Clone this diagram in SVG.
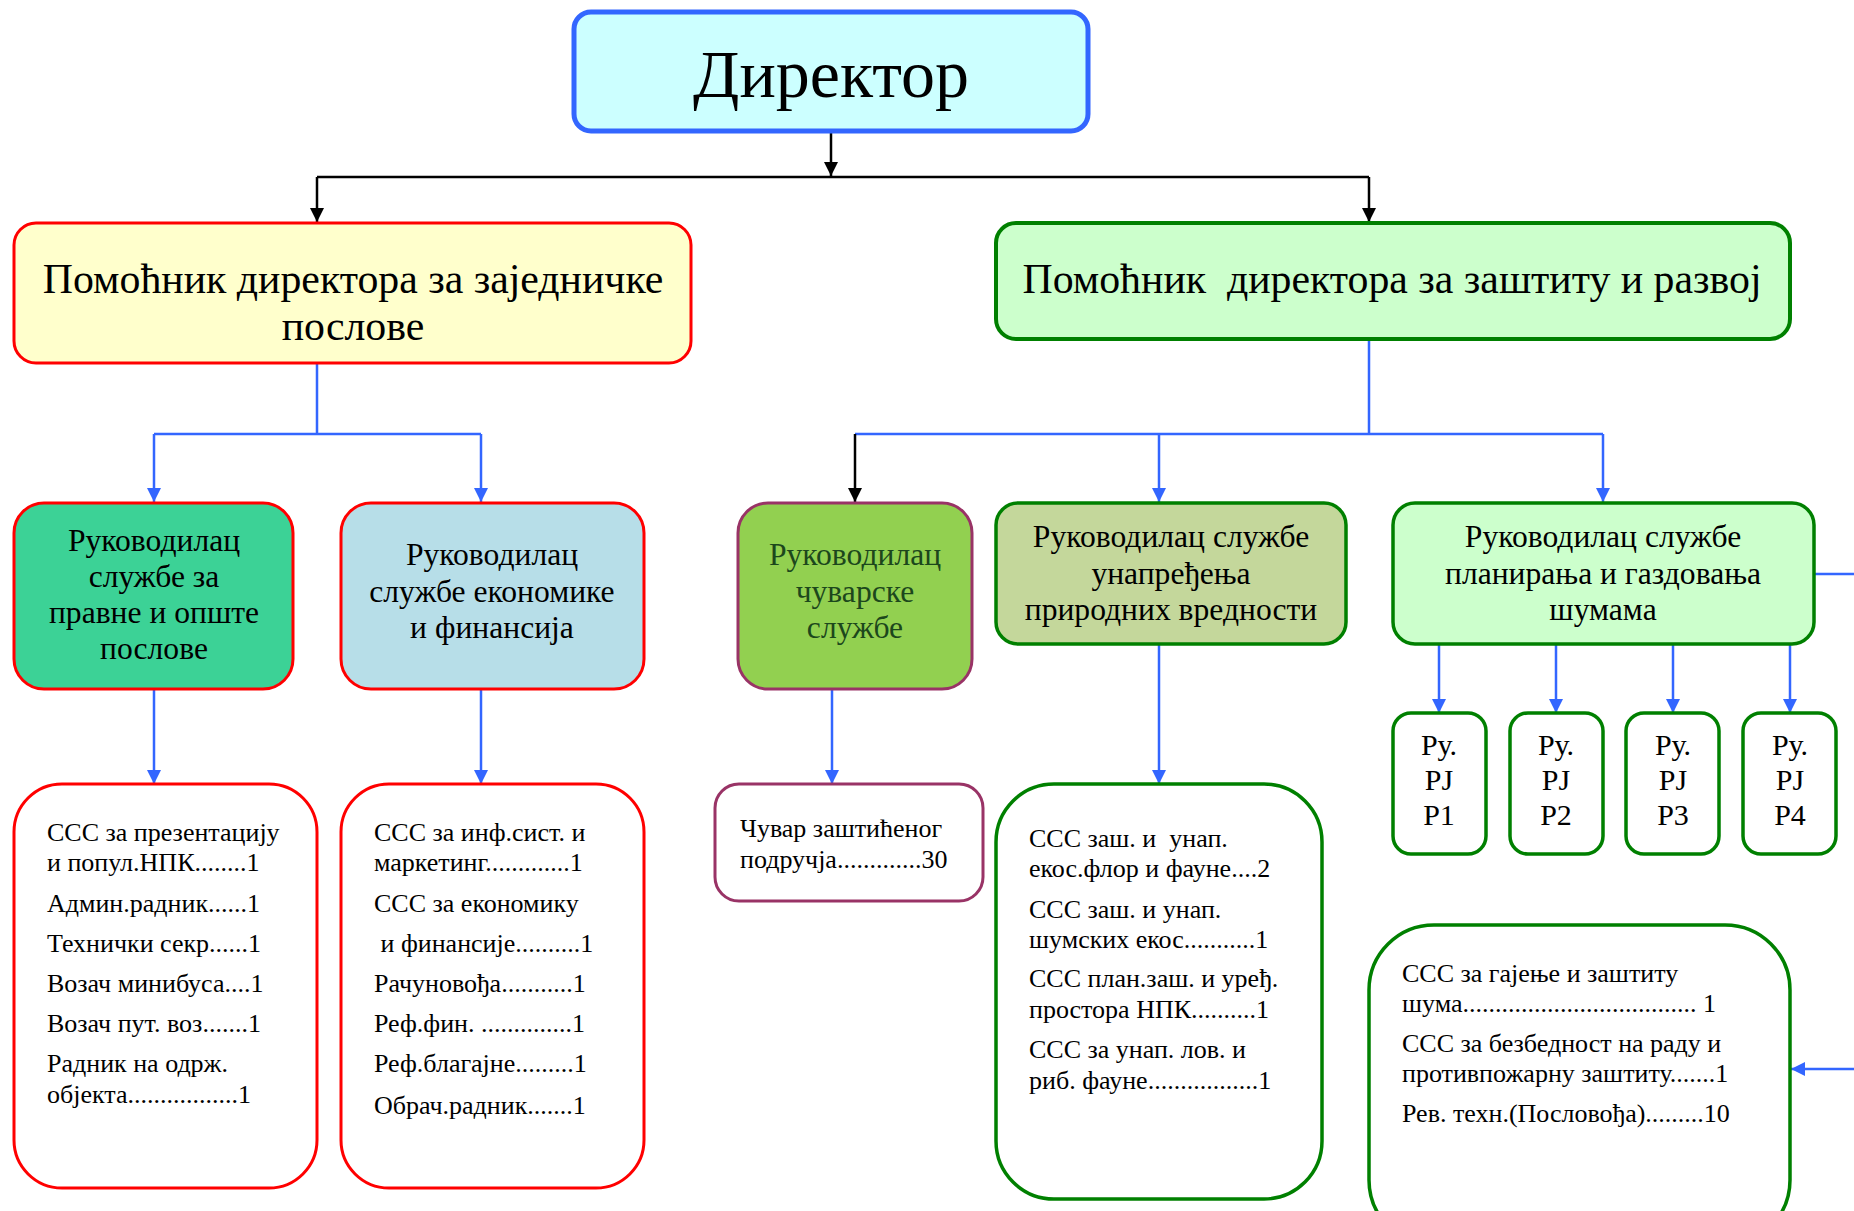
<svg xmlns="http://www.w3.org/2000/svg" width="1854" height="1211" viewBox="0 0 1854 1211">
<defs>
<style>
text{font-family:"Liberation Serif","Times New Roman",serif;fill:#000;}
.c{text-anchor:middle;}
.t1{font-size:68px;}
.t2{font-size:41.8px;white-space:pre;}
.t3{font-size:31.6px;}
.t4{font-size:26px;white-space:pre;}
.t5{font-size:30px;}
.blk{stroke:#000;stroke-width:2.5;fill:none;}
.blu{stroke:#3366FF;stroke-width:2.5;fill:none;}
.red{stroke:#FF0000;stroke-width:3;}
.grn{stroke:#008000;stroke-width:3.5;}
.pur{stroke:#993366;stroke-width:3;}
</style>
<marker id="ak" markerUnits="userSpaceOnUse" markerWidth="16" markerHeight="16" refX="14" refY="7" orient="auto">
<path d="M0,0 L14,7 L0,14 z" fill="#000"/>
</marker>
<marker id="ab" markerUnits="userSpaceOnUse" markerWidth="16" markerHeight="16" refX="14" refY="7" orient="auto">
<path d="M0,0 L14,7 L0,14 z" fill="#3366FF"/>
</marker>
</defs>
<rect x="0" y="0" width="1854" height="1211" fill="#FFFFFF"/>

<g id="connectors">
<path class="blk" d="M831,132 V176" marker-end="url(#ak)"/>
<path class="blk" d="M317,177 H1369"/>
<path class="blk" d="M317,177 V222" marker-end="url(#ak)"/>
<path class="blk" d="M1369,177 V222" marker-end="url(#ak)"/>
<path class="blu" d="M317,363 V434 M154,434 H481"/>
<path class="blu" d="M154,434 V502" marker-end="url(#ab)"/>
<path class="blu" d="M481,434 V502" marker-end="url(#ab)"/>
<path class="blu" d="M1369,339 V434 M855,434 H1603"/>
<path class="blk" d="M855,434 V502" marker-end="url(#ak)"/>
<path class="blu" d="M1159,434 V502" marker-end="url(#ab)"/>
<path class="blu" d="M1603,434 V502" marker-end="url(#ab)"/>
<path class="blu" d="M154,689 V784" marker-end="url(#ab)"/>
<path class="blu" d="M481,689 V784" marker-end="url(#ab)"/>
<path class="blu" d="M832,689 V784" marker-end="url(#ab)"/>
<path class="blu" d="M1159,644 V784" marker-end="url(#ab)"/>
<path class="blu" d="M1439,644 V713" marker-end="url(#ab)"/>
<path class="blu" d="M1556,644 V713" marker-end="url(#ab)"/>
<path class="blu" d="M1673,644 V713" marker-end="url(#ab)"/>
<path class="blu" d="M1790,644 V713" marker-end="url(#ab)"/>
<path class="blu" d="M1814,574 H1856"/>
<path class="blu" d="M1856,1069 H1791" marker-end="url(#ab)"/>
</g>

<g id="director">
<rect x="574" y="12" width="514" height="119" rx="17" fill="#CCFFFF" stroke="#3366FF" stroke-width="5"/>
<text class="c t1" x="831" y="97">Директор</text>
</g>

<g id="pom-zajednicki">
<rect x="14" y="223" width="677" height="140" rx="22" fill="#FFFFCC" class="red"/>
<text class="c t2" x="353" y="293">Помоћник директора за заједничке</text>
<text class="c t2" x="353" y="340">послове</text>
</g>

<g id="pom-zastita">
<rect x="996" y="223" width="794" height="116" rx="20" fill="#CCFFCC" stroke="#008000" stroke-width="4"/>
<text class="c t2" x="1392" y="293">Помоћник  директора за заштиту и развој</text>
</g>

<g id="ruk-pravne">
<rect x="14" y="503" width="279" height="186" rx="30" fill="#3CD296" class="red"/>
<text class="c t3" x="154" y="551">Руководилац</text>
<text class="c t3" x="154" y="587">службе за</text>
<text class="c t3" x="154" y="623">правне и опште</text>
<text class="c t3" x="154" y="659">послове</text>
</g>

<g id="ruk-ekonomike">
<rect x="341" y="503" width="303" height="186" rx="30" fill="#B7DEE8" class="red"/>
<text class="c t3" x="492" y="565">Руководилац</text>
<text class="c t3" x="492" y="602">службе економике</text>
<text class="c t3" x="492" y="638">и финансија</text>
</g>

<g id="ruk-cuvarske">
<rect x="738" y="503" width="234" height="186" rx="30" fill="#92D050" class="pur"/>
<text class="c t3" x="855" y="565" style="fill:#1C471C">Руководилац</text>
<text class="c t3" x="855" y="602" style="fill:#1C471C">чуварске</text>
<text class="c t3" x="855" y="638" style="fill:#1C471C">службе</text>
</g>

<g id="ruk-unapredjenja">
<rect x="996" y="503" width="350" height="141" rx="22" fill="#C4D79B" class="grn"/>
<text class="c t3" x="1171" y="547">Руководилац службе</text>
<text class="c t3" x="1171" y="584">унапређења</text>
<text class="c t3" x="1171" y="620">природних вредности</text>
</g>

<g id="ruk-planiranja">
<rect x="1393" y="503" width="421" height="141" rx="22" fill="#CCFFCC" class="grn"/>
<text class="c t3" x="1603" y="547">Руководилац службе</text>
<text class="c t3" x="1603" y="584">планирања и газдовања</text>
<text class="c t3" x="1603" y="620">шумама</text>
</g>

<g id="lista-pravne">
<rect x="14" y="784" width="303" height="404" rx="48" fill="#FFFFFF" class="red"/>
<text class="t4" x="47" y="841">ССС за презентацију</text>
<text class="t4" x="47" y="871">и попул.НПК........1</text>
<text class="t4" x="47" y="912">Админ.радник......1</text>
<text class="t4" x="47" y="952">Технички секр......1</text>
<text class="t4" x="47" y="992">Возач минибуса....1</text>
<text class="t4" x="47" y="1032">Возач пут. воз.......1</text>
<text class="t4" x="47" y="1072">Радник на одрж.</text>
<text class="t4" x="47" y="1103">објекта.................1</text>
</g>

<g id="lista-ekonomike">
<rect x="341" y="784" width="303" height="404" rx="48" fill="#FFFFFF" class="red"/>
<text class="t4" x="374" y="841">ССС за инф.сист. и</text>
<text class="t4" x="374" y="871">маркетинг.............1</text>
<text class="t4" x="374" y="912">ССС за економику</text>
<text class="t4" x="374" y="952"> и финансије..........1</text>
<text class="t4" x="374" y="992">Рачуновођа...........1</text>
<text class="t4" x="374" y="1032">Реф.фин. ..............1</text>
<text class="t4" x="374" y="1072">Реф.благајне.........1</text>
<text class="t4" x="374" y="1114">Обрач.радник.......1</text>
</g>

<g id="cuvar">
<rect x="715" y="784" width="268" height="117" rx="24" fill="#FFFFFF" class="pur"/>
<text class="t4" x="740" y="837">Чувар заштићеног</text>
<text class="t4" x="740" y="868">подручја.............30</text>
</g>

<g id="lista-unapredjenja">
<rect x="996" y="784" width="326" height="415" rx="58" fill="#FFFFFF" class="grn"/>
<text class="t4" x="1029" y="847">ССС заш. и  унап.</text>
<text class="t4" x="1029" y="877">екос.флор и фауне....2</text>
<text class="t4" x="1029" y="918">ССС заш. и унап.</text>
<text class="t4" x="1029" y="948">шумских екос...........1</text>
<text class="t4" x="1029" y="987">ССС план.заш. и уређ.</text>
<text class="t4" x="1029" y="1018">простора НПК..........1</text>
<text class="t4" x="1029" y="1058">ССС за унап. лов. и</text>
<text class="t4" x="1029" y="1089">риб. фауне.................1</text>
</g>

<g id="pj1">
<rect x="1393" y="713" width="93" height="141" rx="18" fill="#FFFFFF" class="grn"/>
<text class="c t5" x="1439" y="755">Ру.</text>
<text class="c t5" x="1439" y="790">РЈ</text>
<text class="c t5" x="1439" y="825">Р1</text>
</g>
<g id="pj2">
<rect x="1510" y="713" width="93" height="141" rx="18" fill="#FFFFFF" class="grn"/>
<text class="c t5" x="1556" y="755">Ру.</text>
<text class="c t5" x="1556" y="790">РЈ</text>
<text class="c t5" x="1556" y="825">Р2</text>
</g>
<g id="pj3">
<rect x="1626" y="713" width="93" height="141" rx="18" fill="#FFFFFF" class="grn"/>
<text class="c t5" x="1673" y="755">Ру.</text>
<text class="c t5" x="1673" y="790">РЈ</text>
<text class="c t5" x="1673" y="825">Р3</text>
</g>
<g id="pj4">
<rect x="1743" y="713" width="93" height="141" rx="18" fill="#FFFFFF" class="grn"/>
<text class="c t5" x="1790" y="755">Ру.</text>
<text class="c t5" x="1790" y="790">РЈ</text>
<text class="c t5" x="1790" y="825">Р4</text>
</g>

<g id="lista-planiranja">
<rect x="1369" y="925" width="421" height="320" rx="65" fill="#FFFFFF" class="grn"/>
<text class="t4" x="1402" y="982">ССС за гајење и заштиту</text>
<text class="t4" x="1402" y="1012">шума.................................... 1</text>
<text class="t4" x="1402" y="1052">ССС за безбедност на раду и</text>
<text class="t4" x="1402" y="1082">противпожарну заштиту.......1</text>
<text class="t4" x="1402" y="1122">Рев. техн.(Пословођа).........10</text>
</g>
</svg>
